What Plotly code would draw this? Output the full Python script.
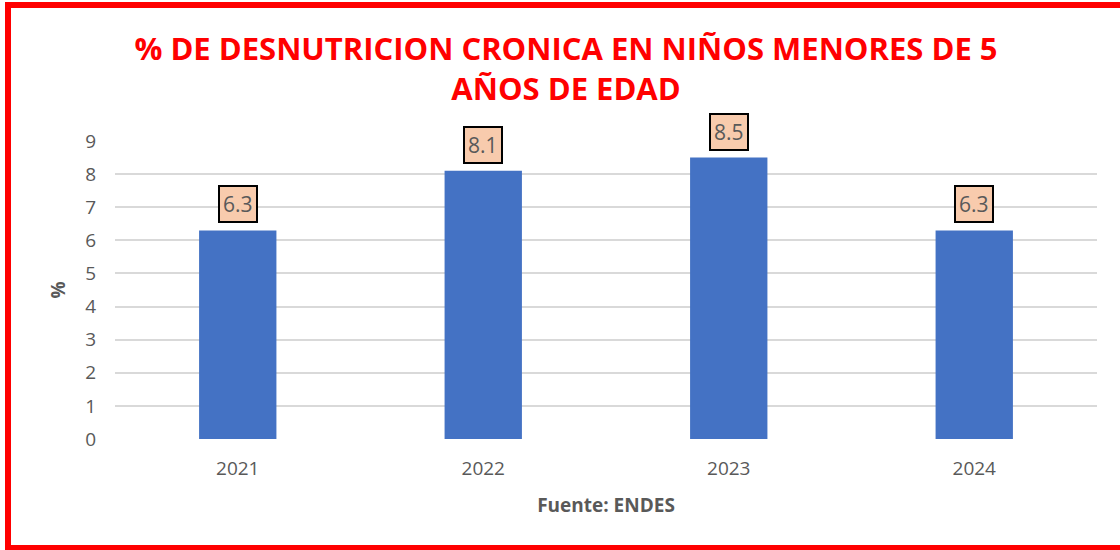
import plotly.graph_objects as go

years = ["2021", "2022", "2023", "2024"]
values = [6.3, 8.1, 8.5, 6.3]
labels = ["6.3", "8.1", "8.5", "6.3"]
y_ticks = [0, 1, 2, 3, 4, 5, 6, 7, 8, 9]

title_text = "% DE DESNUTRICION CRONICA EN NIÑOS MENORES DE 5<br>AÑOS DE EDAD"
x_title = "Fuente: ENDES"
y_title = "%"

FONT = "Open Sans"
GRAY = "#595959"

fig = go.Figure()
fig.add_trace(go.Bar(
    x=years, y=values,
    marker=dict(color="#4472C4", line=dict(width=0)),
    hoverinfo="x+y",
))

for i, (v, lab) in enumerate(zip(values, labels)):
    fig.add_annotation(
        x=i, y=v, xref="x", yref="y",
        text=lab, showarrow=False,
        yanchor="bottom", yshift=7,
        font=dict(family=FONT, size=21, color=GRAY),
        bgcolor="#F8CBAD", bordercolor="#000000", borderwidth=2, borderpad=3,
    )

L, R, T, B = 115, 23, 141, 111
W, H = 1120, 550
pw, ph = W - L - R, H - T - B

def px(xp):
    return (xp - L) / pw

def py(yp):
    return (H - B - yp) / ph

# red frame (left, top, bottom; right edge cut off as in the reference)
red = dict(color="#FF0000", width=6)
fig.add_shape(type="line", xref="paper", yref="paper",
              x0=px(8), x1=px(8), y0=py(550), y1=py(2), line=red)
fig.add_shape(type="line", xref="paper", yref="paper",
              x0=px(5), x1=px(1120), y0=py(5), y1=py(5), line=red)
fig.add_shape(type="line", xref="paper", yref="paper",
              x0=px(5), x1=px(1120), y0=py(548), y1=py(548), line=red)

fig.update_layout(
    width=W, height=H,
    margin=dict(l=L, r=R, t=T, b=B),
    paper_bgcolor="white", plot_bgcolor="white",
    title=dict(text=title_text, x=566 / W, xref="container", xanchor="center",
               y=1 - 60 / H, yref="container", yanchor="middle",
               font=dict(family=FONT, size=31, color="#FF0000", weight="bold")),
    bargap=0.685,
    showlegend=False,
    xaxis=dict(
        type="category", range=[-0.5, 3.5],
        showgrid=False, showline=False, ticks="", ticklabelstandoff=16,
        tickfont=dict(family=FONT, size=19, color=GRAY),
        title=dict(text=x_title, standoff=18,
                   font=dict(family=FONT, size=19, color=GRAY, weight="bold")),
    ),
    yaxis=dict(
        range=[0, 9], tickvals=y_ticks, showgrid=True,
        gridcolor="#D9D9D9", gridwidth=1.5, zeroline=False, showline=False,
        ticks="", ticklabelstandoff=18,
        tickfont=dict(family=FONT, size=19, color=GRAY),
        title=dict(text=y_title, standoff=14,
                   font=dict(family=FONT, size=19, color=GRAY, weight="bold")),
    ),
)

fig.write_html("out.html", config={"displayModeBar": False},
               post_script="document.body.style.margin='0';")
